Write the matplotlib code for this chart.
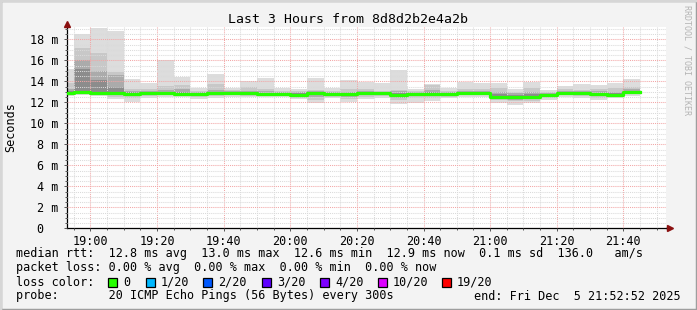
import matplotlib
matplotlib.use('Agg')
import matplotlib.pyplot as plt
import matplotlib.dates as mdates
from matplotlib.patches import Rectangle
from matplotlib.ticker import MultipleLocator, FuncFormatter
from datetime import datetime, timedelta
import numpy as np

W, H = 697, 310
MONO = 'DejaVu Sans Mono'

# 5 minute rounds, the first one starts 18:50 and is cut by the window
t0 = datetime(2025, 12, 5, 18, 50)
win_start = datetime(2025, 12, 5, 18, 52, 52)
win_end = datetime(2025, 12, 5, 21, 52, 52)

# median rtt per round (ms)
rtt_med = [12.85, 13.0, 12.9, 12.85, 12.8, 12.9, 12.9, 12.8, 12.8, 12.85, 12.85, 12.85,
           12.8, 12.8, 12.7, 12.85, 12.8, 12.75, 12.85, 12.85, 12.7, 12.8, 12.8, 12.75,
           12.85, 12.9, 12.55, 12.55, 12.55, 12.65, 12.9, 12.85, 12.8, 12.7, 12.95]
# smoke: outer band (min..max) down to the inner bands
rtt_max = [15.2, 18.5, 19.05, 18.8, 14.2, 13.8, 16.0, 14.45, 13.4, 14.7, 13.4, 14.05,
           14.35, 13.4, 13.3, 14.35, 13.4, 14.1, 13.95, 13.8, 15.1, 13.3, 13.7, 13.4,
           13.95, 13.85, 13.85, 13.3, 13.95, 13.15, 13.55, 13.7, 13.65, 13.8, 14.2]
rtt_min = [12.6, 12.65, 12.6, 12.3, 12.05, 12.45, 12.5, 12.5, 12.35, 12.45, 12.55, 12.5,
           12.5, 12.5, 12.3, 11.9, 12.4, 12.0, 12.3, 12.45, 11.85, 11.9, 12.15, 12.45,
           12.5, 12.55, 11.95, 11.75, 11.95, 12.2, 12.5, 12.45, 12.2, 12.4, 12.6]
hi2 = [13.8, 17.2, 16.7, 14.9, 13.3, 13.3, 13.55, 13.65, 13.1, 13.7, 13.2, 13.5,
       13.3, 13.1, 13.1, 13.2, 13.1, 13.3, 13.3, 13.1, 13.2, 13.1, 13.6, 13.1,
       13.3, 13.3, 13.4, 13.0, 13.4, 13.0, 13.3, 13.2, 13.3, 13.4, 13.5]
lo2 = [12.65, 12.75, 12.7, 12.5, 12.4, 12.6, 12.65, 12.6, 12.5, 12.6, 12.65, 12.6,
       12.6, 12.6, 12.45, 12.2, 12.55, 12.3, 12.5, 12.6, 12.2, 12.4, 12.4, 12.55,
       12.65, 12.7, 12.2, 12.1, 12.15, 12.4, 12.65, 12.6, 12.45, 12.5, 12.75]
hi3 = [13.3, 16.0, 15.0, 14.6, 13.1, 13.1, 13.2, 13.3, 13.0, 13.2, 13.1, 13.1,
       13.05, 13.0, 12.95, 13.1, 13.0, 13.0, 13.1, 13.0, 13.1, 13.0, 13.2, 13.0,
       13.1, 13.1, 13.0, 12.85, 12.95, 12.9, 13.1, 13.05, 13.05, 13.0, 13.3]
lo3 = [12.7, 12.8, 12.75, 12.65, 12.6, 12.7, 12.7, 12.65, 12.6, 12.7, 12.7, 12.7,
       12.65, 12.65, 12.55, 12.5, 12.65, 12.55, 12.65, 12.7, 12.45, 12.6, 12.6, 12.6,
       12.7, 12.75, 12.3, 12.25, 12.3, 12.5, 12.75, 12.7, 12.6, 12.55, 12.8]
hi4 = [13.05, 15.2, 14.1, 13.5, 12.95, 13.0, 13.0, 12.95, 12.9, 12.95, 12.95, 12.95,
       12.9, 12.9, 12.85, 12.95, 12.9, 12.9, 12.95, 12.95, 12.85, 12.9, 12.95, 12.85,
       12.95, 13.0, 12.75, 12.7, 12.75, 12.8, 13.0, 12.95, 12.9, 12.85, 13.1]
lo4 = [12.75, 12.9, 12.8, 12.75, 12.7, 12.8, 12.8, 12.7, 12.7, 12.75, 12.75, 12.75,
       12.7, 12.7, 12.6, 12.7, 12.7, 12.65, 12.75, 12.75, 12.6, 12.7, 12.7, 12.65,
       12.75, 12.8, 12.4, 12.4, 12.4, 12.55, 12.8, 12.75, 12.7, 12.6, 12.85]

loss_labels = ['0', '1/20', '2/20', '3/20', '4/20', '10/20', '19/20']
loss_colors = ['#26ff00', '#00b8ff', '#0059ff', '#5e00ff', '#7e00ff', '#dd00ff', '#ff0000']

title = 'Last 3 Hours from 8d8d2b2e4a2b'
line_rtt = 'median rtt:  12.8 ms avg  13.0 ms max  12.6 ms min  12.9 ms now  0.1 ms sd  136.0   am/s'
line_loss = 'packet loss: 0.00 % avg  0.00 % max  0.00 % min  0.00 % now'
line_probe = 'probe:       20 ICMP Echo Pings (56 Bytes) every 300s'
line_end = 'end: Fri Dec  5 21:52:52 2025'


def fx(x):
    return x / W


def fy(y):
    return 1 - y / H


n = len(rtt_med)
starts = [t0 + timedelta(minutes=5 * i) for i in range(n + 1)]
xs = mdates.date2num(starts)
step = 5 / 1440

fig = plt.figure(figsize=(W / 100, H / 100), dpi=100, facecolor='#f3f3f3')
ax = fig.add_axes([fx(66.7), fy(228.3), fx(666.2) - fx(66.7), fy(26.7) - fy(228.3)])
ax.set_facecolor('white')

layers = [(rtt_min, rtt_max, '#dddddd'), (lo2, hi2, '#c8c8c8'),
          (lo3, hi3, '#ababab'), (lo4, hi4, '#8c8c8c')]
for lo, hi, col in layers:
    lo = np.array(lo)
    hi = np.array(hi)
    ax.bar(xs[:-1], (hi - lo) / 1000, bottom=lo / 1000, width=step, align='edge',
           color=col, linewidth=0, zorder=1)

med = np.array(rtt_med + [rtt_med[-1]]) / 1000
ax.step(xs, med, where='post', color=loss_colors[0], lw=2.3, zorder=3)

ax.set_xlim(mdates.date2num(win_start), mdates.date2num(win_end))
ax.set_ylim(0, 0.0192)

ax.xaxis.set_major_locator(mdates.MinuteLocator(byminute=[0, 20, 40]))
ax.xaxis.set_minor_locator(mdates.MinuteLocator(byminute=range(0, 60, 5)))
ax.xaxis.set_major_formatter(mdates.DateFormatter('%H:%M'))
ax.yaxis.set_major_locator(MultipleLocator(0.002))
ax.yaxis.set_minor_locator(MultipleLocator(0.0005))
ax.yaxis.set_major_formatter(FuncFormatter(
    lambda v, p: '%d m' % round(v * 1000) if round(v * 1000) else '0  '))

ax.grid(True, which='minor', color='#dadada', lw=0.75, ls=(0, (1, 1)), zorder=2)
ax.grid(True, which='major', color='#f2a6a6', lw=0.75, ls=(0, (1, 1)), zorder=2)
ax.set_axisbelow(False)

for sp in ['top', 'right']:
    ax.spines[sp].set_visible(False)
for sp in ['left', 'bottom']:
    ax.spines[sp].set_color('black')
    ax.spines[sp].set_linewidth(0.9)

ax.tick_params(which='both', direction='out', color='#555555', width=0.7)
ax.tick_params(which='major', length=2.5)
ax.tick_params(which='minor', length=1.5)
ax.tick_params(axis='x', which='major', pad=2.5)
ax.tick_params(axis='y', which='major', pad=3.5)
for lab in ax.get_xticklabels() + ax.get_yticklabels():
    lab.set_fontfamily(MONO)
    lab.set_fontsize(8.5)
    lab.set_color('black')

# axis arrows
ax.plot([1.006], [0], marker='>', ms=4.5, color='#8b1010', transform=ax.transAxes,
        clip_on=False, zorder=5)
ax.plot([1.0, 1.006], [0, 0], color='black', lw=0.9, transform=ax.transAxes, clip_on=False)
ax.plot([0], [1.015], marker='^', ms=4.5, color='#8b1010', transform=ax.transAxes,
        clip_on=False, zorder=5)
ax.plot([0, 0], [1.0, 1.015], color='black', lw=0.9, transform=ax.transAxes, clip_on=False)

# texts
fig.text(fx(348), fy(19.3), title, fontfamily=MONO, fontsize=9.5, ha='center', va='center')
fig.text(fx(11), fy(127), 'Seconds', fontfamily=MONO, fontsize=8.5, rotation=90,
         ha='center', va='center')
fig.text(fx(687.5), fy(60), 'RRDTOOL / TOBI OETIKER', fontfamily=MONO, fontsize=6,
         rotation=270, ha='center', va='center', color='#b4b4b4')

fig.text(fx(16), fy(254), line_rtt, fontfamily=MONO, fontsize=8.5, va='center')
fig.text(fx(16), fy(268), line_loss, fontfamily=MONO, fontsize=8.5, va='center')
fig.text(fx(16), fy(282), 'loss color:', fontfamily=MONO, fontsize=8.5, va='center')
fig.text(fx(16), fy(296), line_probe, fontfamily=MONO, fontsize=8.5, va='center')
fig.text(fx(681), fy(296), line_end, fontfamily=MONO, fontsize=8.5, va='center', ha='right')

box_x = [108.3, 146, 203, 261.7, 320, 377.7, 442]
for bx, lab, col in zip(box_x, loss_labels, loss_colors):
    fig.patches.append(Rectangle((fx(bx), fy(286.5)), fx(9), 9 / H, facecolor=col,
                                 edgecolor='black', lw=0.9, transform=fig.transFigure))
    fig.text(fx(bx + 15), fy(282), lab, fontfamily=MONO, fontsize=8.5, va='center')

# 3d frame
fig.patches.append(Rectangle((0, 0), 1, 1, fill=False, edgecolor='#9e9e9e', lw=2.5,
                             transform=fig.transFigure))
fig.lines.append(plt.Line2D([0, 0, 1], [0, 1, 1], color='#d6d6d6', lw=2.5,
                            transform=fig.transFigure))

fig.savefig('out.png', dpi=100, facecolor=fig.get_facecolor())
